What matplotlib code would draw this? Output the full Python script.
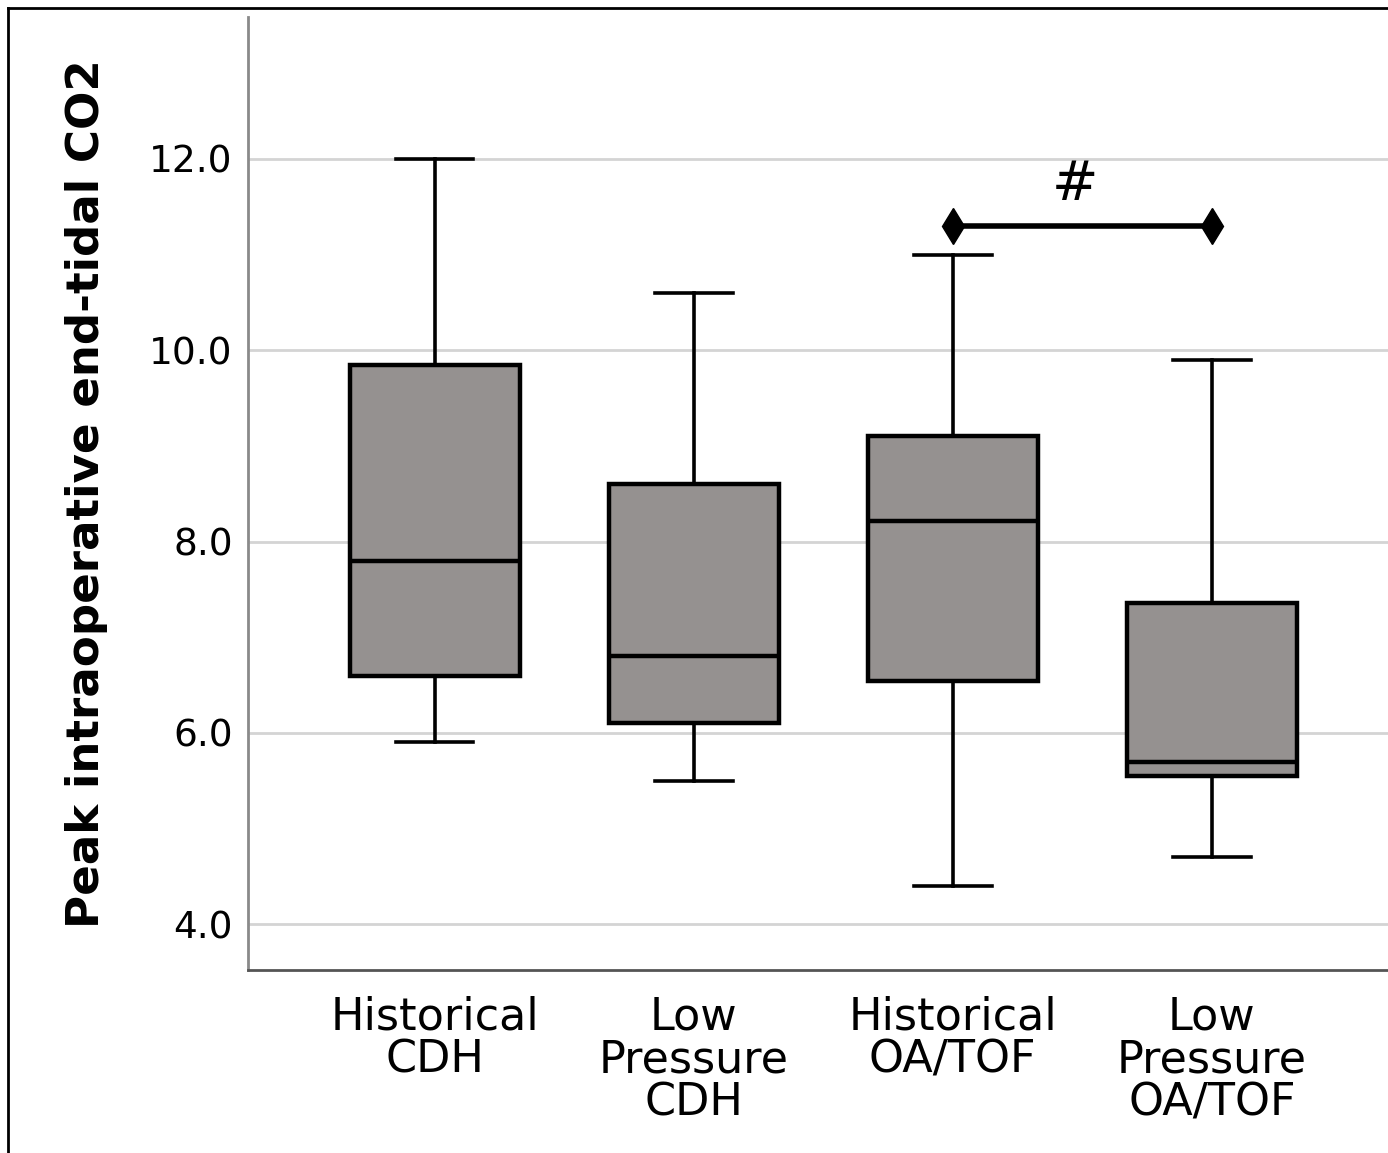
import matplotlib
matplotlib.use("Agg")
import matplotlib.pyplot as plt
from matplotlib.lines import Line2D

categories = ["Historical\nCDH", "Low\nPressure\nCDH", "Historical\nOA/TOF", "Low\nPressure\nOA/TOF"]
whislo = [5.9, 5.5, 4.4, 4.7]
q1 = [6.59, 6.10, 6.54, 5.55]
med = [7.80, 6.80, 8.21, 5.70]
q3 = [9.85, 8.60, 9.10, 7.36]
whishi = [12.0, 10.6, 11.0, 9.9]
yticks = [4.0, 6.0, 8.0, 10.0, 12.0]
sig_pair = [2, 3]
sig_y = 11.3
sig_label = "#"

fig = plt.figure(figsize=(13.88, 11.53), dpi=100)
ax = fig.add_axes([0.1787, 0.1587, 0.8213, 0.8266])

stats = []
for i in range(len(categories)):
    stats.append(dict(whislo=whislo[i], q1=q1[i], med=med[i], q3=q3[i], whishi=whishi[i], fliers=[]))

pos = list(range(len(categories)))
ax.bxp(stats, positions=pos, widths=0.656, capwidths=0.30, patch_artist=True, showfliers=False,
       boxprops=dict(facecolor="#959190", edgecolor="black", linewidth=3.2),
       medianprops=dict(color="black", linewidth=3.2),
       whiskerprops=dict(color="black", linewidth=2.6),
       capprops=dict(color="black", linewidth=2.6), zorder=3)

ax.set_xlim(-0.72, 3.68)
ax.set_ylim(3.52, 13.485)
ax.set_yticks(yticks)
ax.set_yticklabels([f"{v:.1f}" for v in yticks])
ax.yaxis.grid(True, color="#d4d4d4", linewidth=2.0, zorder=0)
ax.set_axisbelow(True)
ax.tick_params(axis="both", length=0)
ax.tick_params(axis="y", pad=11, labelsize=27)
ax.tick_params(axis="x", pad=18)
ax.set_xticks(pos)
ax.set_xticklabels(categories, fontsize=32, linespacing=1.0)
for s in ["top", "right"]:
    ax.spines[s].set_visible(False)
ax.spines["left"].set_color("#8a8a8a")
ax.spines["left"].set_linewidth(2.0)
ax.spines["bottom"].set_color("#555555")
ax.spines["bottom"].set_linewidth(2.0)
ax.set_ylabel("Peak intraoperative end-tidal CO2", fontsize=32.5, fontweight="bold", labelpad=30)

ax.plot(sig_pair, [sig_y, sig_y], color="black", linewidth=4, marker="d", markersize=18, zorder=4)
ax.text(sum(sig_pair) / 2 - 0.03, sig_y + 0.15, sig_label, ha="center", va="bottom", fontsize=40)

# figure border (left and top visible)
fig.add_artist(Line2D([8/1388, 8/1388], [0, 1 - 8/1153], color="black", linewidth=2, transform=fig.transFigure))
fig.add_artist(Line2D([8/1388, 1], [1 - 8/1153, 1 - 8/1153], color="black", linewidth=2, transform=fig.transFigure))

fig.savefig("out.png", dpi=100)
